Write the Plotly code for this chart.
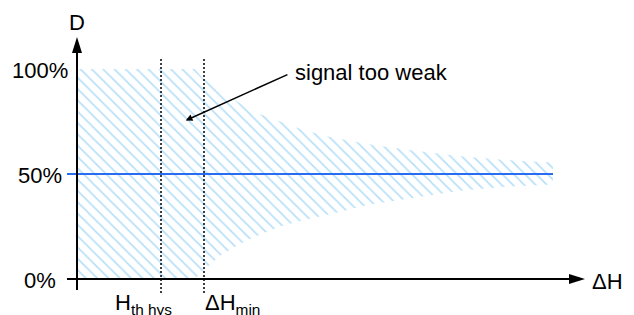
import plotly.graph_objects as go

# ---- data ----
dh = [0, 2.32, 2.48, 2.81, 3.15, 3.54, 4.0, 4.45, 5.0, 5.77, 6.5, 7.54, 8.5, 9.37]
d_upper = [100, 100, 95.5, 90.5, 84.5, 79, 75, 71, 67.5, 64, 61.5, 58.5, 56.5, 55.5]
d_lower = [0, 0, 4, 11, 16, 20.5, 25, 28, 31, 35.5, 38, 42, 44, 45]
mean_x = [-0.197, 9.37]
mean_y = [50, 50]
y_tick_vals = [0, 50, 100]
y_tick_text = ["0%", "50%", "100%"]
x_mark_vals = [1.654, 2.5]
x_mark_text = ["H<sub>th hys</sub>", "ΔH<sub>min</sub>"]
x_axis_end = 10.0
y_axis_end = 115.2

# ---- geometry (pixel scale of the figure) ----
W, H = 634, 315
X0_PX, Y0_PX = 77, 279
SX, SY = 50.8, 2.1  # px per data unit

def dx(px):
    return px / SX

def dy(px):
    return px / SY

FONT = "Liberation Sans, Arial, sans-serif"
FS = 22

fig = go.Figure()

# hatched envelope
fig.add_trace(go.Scatter(
    x=dh + dh[::-1],
    y=d_upper + d_lower[::-1],
    mode="lines",
    fill="toself",
    line=dict(width=0, color="rgba(0,0,0,0)"),
    fillcolor="rgba(0,0,0,0)",
    fillpattern=dict(shape="\\", fgcolor="#6cbff2", bgcolor="rgba(0,0,0,0)",
                     size=8, solidity=0.2),
    hoverinfo="skip",
    showlegend=False,
))

# mean line at 50%
fig.add_trace(go.Scatter(
    x=mean_x, y=mean_y, mode="lines",
    line=dict(color="#2a6cf0", width=2),
    hoverinfo="skip", showlegend=False,
))

shapes = []
# dashed marker lines
for xv in x_mark_vals:
    shapes.append(dict(type="line", xref="x", yref="y", x0=xv, x1=xv,
                       y0=-dy(14), y1=105.7,
                       line=dict(color="black", width=1.5, dash="2px,2px")))
# x axis line
shapes.append(dict(type="line", xref="x", yref="y", x0=-dx(10), x1=x_axis_end - dx(10),
                   y0=0, y1=0, line=dict(color="black", width=2)))
# y axis line
shapes.append(dict(type="line", xref="x", yref="y", x0=0, x1=0,
                   y0=-dy(11), y1=y_axis_end - dy(10), line=dict(color="black", width=2)))
# arrow heads
hl, hw = 16, 5
shapes.append(dict(type="path", xref="x", yref="y",
                   path=f"M{x_axis_end},0 L{x_axis_end - dx(hl)},{dy(hw)} L{x_axis_end - dx(hl)},{-dy(hw)} Z",
                   fillcolor="black", line=dict(width=0)))
shapes.append(dict(type="path", xref="x", yref="y",
                   path=f"M0,{y_axis_end} L{dx(hw)},{y_axis_end - dy(hl)} L{-dx(hw)},{y_axis_end - dy(hl)} Z",
                   fillcolor="black", line=dict(width=0)))

annotations = []
# y tick labels
for v, t in zip(y_tick_vals, y_tick_text):
    annotations.append(dict(x=-dx(37.5), y=v - dy(1.5), xref="x", yref="y", text=t,
                            showarrow=False, xanchor="center", yanchor="middle",
                            font=dict(family=FONT, size=FS, color="black")))
# x marker labels
label_dx = [-48, -1]
for v, t, o in zip(x_mark_vals, x_mark_text, label_dx):
    annotations.append(dict(x=v + dx(o), y=-dy(9), xref="x", yref="y", text=t,
                            showarrow=False, xanchor="left", yanchor="top",
                            font=dict(family=FONT, size=FS, color="black")))
# axis titles
annotations.append(dict(x=0, y=y_axis_end + dy(15), xref="x", yref="y", text="D",
                        showarrow=False, xanchor="center", yanchor="middle",
                        font=dict(family=FONT, size=FS, color="black")))
annotations.append(dict(x=x_axis_end + dx(5), y=-dy(2), xref="x", yref="y", text="ΔH",
                        showarrow=False, xanchor="left", yanchor="middle",
                        font=dict(family=FONT, size=FS, color="black")))
# callout with arrow
annotations.append(dict(x=2.14, y=75.5, ax=4.25, ay=98.5, xref="x", yref="y",
                        axref="x", ayref="y", text="signal too weak",
                        xanchor="left", yanchor="middle",
                        showarrow=True, arrowhead=2, arrowsize=0.9, arrowwidth=1.5,
                        arrowcolor="black", startstandoff=6,
                        font=dict(family=FONT, size=FS, color="black")))

fig.update_layout(
    width=W, height=H,
    margin=dict(l=0, r=0, t=0, b=0),
    paper_bgcolor="white", plot_bgcolor="white",
    xaxis=dict(range=[-X0_PX / SX, (W - X0_PX) / SX], visible=False, fixedrange=True),
    yaxis=dict(range=[-(H - Y0_PX) / SY, Y0_PX / SY], visible=False, fixedrange=True),
    shapes=shapes,
    annotations=annotations,
    showlegend=False,
)

fig.write_html("out.html",
               config={"displayModeBar": False, "staticPlot": True},
               post_script="document.body.style.margin='0';document.body.style.overflow='hidden';")
